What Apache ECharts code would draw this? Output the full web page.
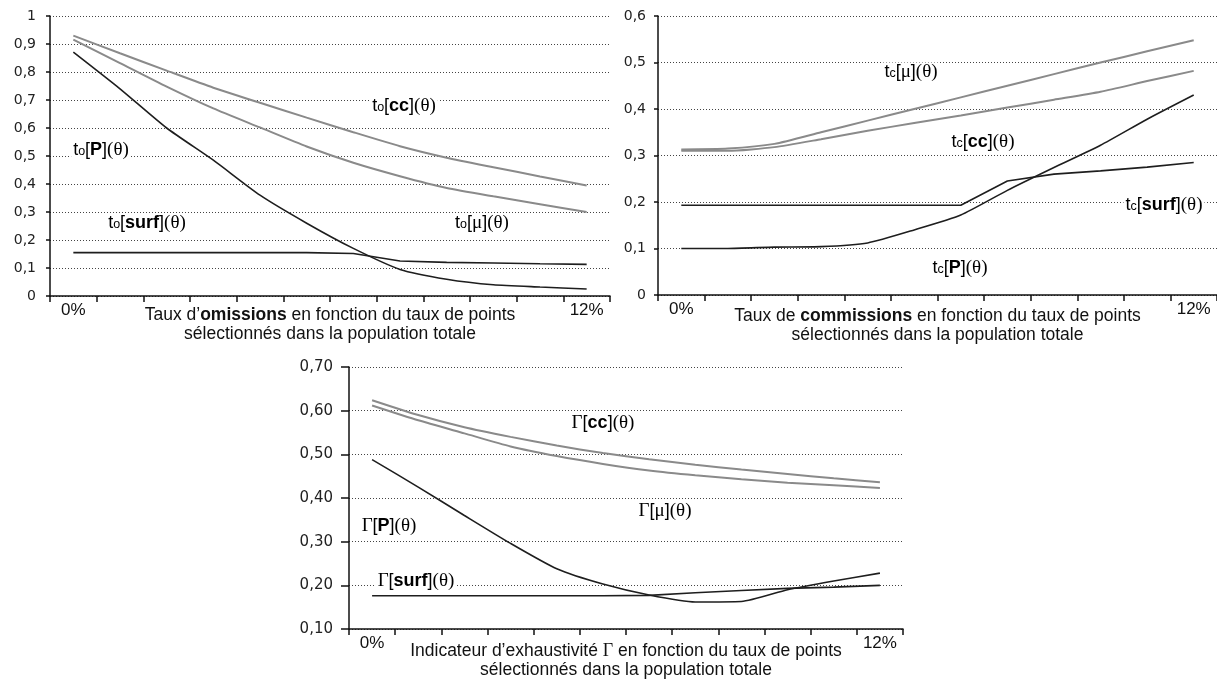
<!DOCTYPE html>
<html>
<head>
<meta charset="utf-8">
<script src="https://cdn.jsdelivr.net/npm/echarts@6/dist/echarts.min.js"></script>
<style>
html,body{margin:0;padding:0;background:#fff;}
#c{width:1217px;height:683px;}
</style>
</head>
<body>
<div id="c"></div>
<script>
// ---------- data ----------
var theta = ['0%','1,1%','2,2%','3,3%','4,4%','5,5%','6,5%','7,6%','8,7%','9,8%','10,9%','12%'];

// Panel 1 : taux d'omissions
var omCC   = [0.930, 0.867, 0.805, 0.744, 0.690, 0.637, 0.585, 0.535, 0.494, 0.460, 0.427, 0.395];
var omMu   = [0.916, 0.832, 0.748, 0.670, 0.602, 0.534, 0.476, 0.428, 0.386, 0.356, 0.328, 0.300];
var omP    = [0.871, 0.740, 0.600, 0.485, 0.360, 0.260, 0.170, 0.095, 0.060, 0.040, 0.032, 0.025];
var omSurf = [0.155, 0.155, 0.155, 0.155, 0.155, 0.155, 0.152, 0.125, 0.120, 0.118, 0.115, 0.113];

// Panel 2 : taux de commissions
var coMu   = [0.313, 0.315, 0.325, 0.350, 0.375, 0.400, 0.425, 0.450, 0.475, 0.500, 0.524, 0.548];
var coCC   = [0.310, 0.310, 0.318, 0.335, 0.353, 0.370, 0.386, 0.403, 0.420, 0.437, 0.460, 0.482];
var coSurf = [0.193, 0.193, 0.193, 0.193, 0.193, 0.193, 0.193, 0.245, 0.260, 0.267, 0.275, 0.285];
var coP    = [0.100, 0.100, 0.103, 0.104, 0.112, 0.140, 0.172, 0.225, 0.274, 0.322, 0.378, 0.430];

// Panel 3 : indicateur d'exhaustivité
var exCC   = [0.624, 0.590, 0.562, 0.540, 0.520, 0.503, 0.489, 0.476, 0.465, 0.455, 0.445, 0.436];
var exMu   = [0.612, 0.578, 0.548, 0.518, 0.496, 0.478, 0.463, 0.452, 0.443, 0.435, 0.429, 0.423];
var exP    = [0.488, 0.425, 0.360, 0.296, 0.238, 0.203, 0.178, 0.162, 0.163, 0.190, 0.210, 0.228];
var exSurf = [0.176, 0.176, 0.176, 0.176, 0.176, 0.176, 0.177, 0.183, 0.188, 0.193, 0.196, 0.200];

// axis captions
var cap1 = 'Taux d\u2019{b|omissions} en fonction du taux de points\nsélectionnés dans la population totale';
var cap2 = 'Taux de {b|commissions} en fonction du taux de points\nsélectionnés dans la population totale';
var cap3 = 'Indicateur d\u2019exhaustivité {g|\u0393} en fonction du taux de points\nsélectionnés dans la population totale';

// ---------- styling ----------
var SANS = 'Liberation Sans';
var SERIF = 'Liberation Serif';
var GRAY = '#8a8a8a';
var BLACK = '#1e1e1e';

var chart = echarts.init(document.getElementById('c'), null, {renderer: 'canvas'});

function xAx(gi, name, gap) {
  return {
    type: 'category', gridIndex: gi, data: theta, boundaryGap: true,
    axisLine: {show: true, lineStyle: {color: '#111', width: 1.5}},
    axisTick: {show: true, interval: 0, length: 6, lineStyle: {color: '#111', width: 1.5}},
    axisLabel: {
      interval: function (i) { return i === 0 || i === theta.length - 1; },
      fontFamily: SANS, fontSize: 17, color: '#111', margin: 6
    },
    splitLine: {show: false},
    name: name, nameLocation: 'middle', nameGap: gap, nameMoveOverlap: false,
    nameTextStyle: {
      fontFamily: SANS, fontSize: 17.5, color: '#111', lineHeight: 19,
      rich: {
        b: {fontFamily: SANS, fontSize: 17.5, fontWeight: 'bold', color: '#111', lineHeight: 19},
        g: {fontFamily: SERIF, fontSize: 18, color: '#111', lineHeight: 19}
      }
    }
  };
}
function yAx(gi, min, max, dec, tick, fs, margin) {
  return {
    type: 'value', gridIndex: gi, min: min, max: max, interval: 0.1,
    axisLine: {show: true, lineStyle: {color: '#111', width: 1.5}},
    axisTick: {show: true, length: tick, lineStyle: {color: '#111', width: 1.5}},
    axisLabel: {
      fontFamily: 'DejaVu Sans', fontSize: fs, color: '#222', margin: margin,
      formatter: function (v) {
        var s = dec ? v.toFixed(dec) : String(Math.round(v * 10) / 10);
        return s.replace('.', ',');
      }
    },
    splitLine: {show: true, lineStyle: {color: '#444', width: 1, type: [1, 2]}}
  };
}
function ser(gi, data, color, width, smooth) {
  return {
    type: 'line', xAxisIndex: gi, yAxisIndex: gi, data: data,
    symbol: 'none', smooth: smooth,
    lineStyle: {color: color, width: width}, silent: true, z: 3
  };
}

var richLbl = {
  a: {fontFamily: SANS, fontSize: 18, color: '#111'},
  s: {fontFamily: SANS, fontSize: 12.5, color: '#111', padding: [4, 0, 0, 0]},
  b: {fontFamily: SANS, fontSize: 18, fontWeight: 'bold', color: '#111'},
  g: {fontFamily: SERIF, fontSize: 19, color: '#111'}
};
// curve labels: [text, x, y] (pixel layout)
var curveLabels = [
  ['{a|t}{s|o}{a|[}{b|cc}{a|]}{g|(\u03b8)}', 404, 106],
  ['{a|t}{s|o}{a|[}{b|P}{a|]}{g|(\u03b8)}', 101, 150],
  ['{a|t}{s|o}{a|[}{b|surf}{a|]}{g|(\u03b8)}', 147, 223],
  ['{a|t}{s|o}{a|[}{g|\u03bc}{a|]}{g|(\u03b8)}', 482, 223],
  ['{a|t}{s|c}{a|[}{g|\u03bc}{a|]}{g|(\u03b8)}', 911, 72],
  ['{a|t}{s|c}{a|[}{b|cc}{a|]}{g|(\u03b8)}', 983, 142],
  ['{a|t}{s|c}{a|[}{b|surf}{a|]}{g|(\u03b8)}', 1164, 205],
  ['{a|t}{s|c}{a|[}{b|P}{a|]}{g|(\u03b8)}', 960, 268],
  ['{g|\u0393}{a|[}{b|cc}{a|]}{g|(\u03b8)}', 603, 423],
  ['{g|\u0393}{a|[}{g|\u03bc}{a|]}{g|(\u03b8)}', 665, 511],
  ['{g|\u0393}{a|[}{b|P}{a|]}{g|(\u03b8)}', 389, 526],
  ['{g|\u0393}{a|[}{b|surf}{a|]}{g|(\u03b8)}', 416, 581]
];
var graphics = curveLabels.map(function (l) {
  return {
    type: 'text', x: l[1], y: l[2], z: 10, silent: true,
    style: {
      text: l[0], rich: richLbl, align: 'center', verticalAlign: 'middle',
      backgroundColor: '#fff', padding: [0, 2]
    }
  };
});

var option = {
  backgroundColor: '#fff',
  animation: false,
  grid: [
    {left: 50, top: 16, width: 560, height: 280, show: false},
    {left: 658, top: 16, width: 560, height: 279, show: false},
    {left: 349, top: 367, width: 554, height: 262, show: false}
  ],
  xAxis: [xAx(0, cap1, 9.5), xAx(1, cap2, 12), xAx(2, cap3, 13)],
  yAxis: [
    yAx(0, 0, 1, 0, 4, 14, 14),
    yAx(1, 0, 0.6, 0, 4, 14, 12),
    yAx(2, 0.1, 0.7, 2, 8, 15, 16)
  ],
  series: [
    ser(0, omCC, GRAY, 2, 0.2),
    ser(0, omMu, GRAY, 2, 0.2),
    ser(0, omP, BLACK, 1.6, 0.2),
    ser(0, omSurf, BLACK, 1.6, false),
    ser(1, coMu, GRAY, 2, 0.2),
    ser(1, coCC, GRAY, 2, 0.2),
    ser(1, coSurf, BLACK, 1.6, false),
    ser(1, coP, BLACK, 1.6, 0.2),
    ser(2, exCC, GRAY, 2, 0.2),
    ser(2, exMu, GRAY, 2, 0.2),
    ser(2, exP, BLACK, 1.6, 0.2),
    ser(2, exSurf, BLACK, 1.6, false)
  ],
  graphic: graphics
};
chart.setOption(option);
</script>
</body>
</html>
